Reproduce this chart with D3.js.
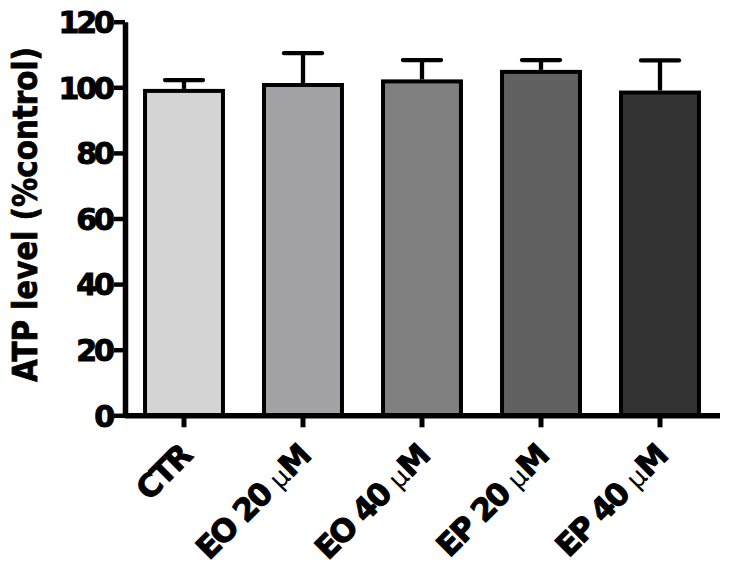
<!DOCTYPE html>
<html>
<head>
<meta charset="utf-8">
<script src="https://cdn.jsdelivr.net/npm/d3@7"></script>
<style>
  body { margin: 0; background: #fff; }
  text { font-family: "DejaVu Sans", sans-serif; font-weight: bold; }
</style>
</head>
<body>
<script>
var groups = ["CTR", "EO 20", "EO 40", "EP 20", "EP 40"],
    units = ["", "\u03bcM", "\u03bcM", "\u03bcM", "\u03bcM"],
    means = [98.9, 100.7, 101.8, 104.7, 98.4],
    upper = [102.2, 110.4, 108.3, 108.3, 108.2],
    fills = ["#d4d4d4", "#a3a3a7", "#808080", "#616161", "#333333"],
    yTicks = [0, 20, 40, 60, 80, 100, 120];

var width = 729,
    height = 571;

var svg = d3.select("body").append("svg")
    .attr("width", width)
    .attr("height", height);

var x = d3.scaleBand()
    .domain(groups)
    .range([124.5, 719.5])
    .paddingInner(0.345)
    .paddingOuter(0.1725);

var y = d3.scaleLinear()
    .domain([0, 120])
    .range([415.3, 21.7]);

// bars
svg.selectAll(".bar")
    .data(groups)
  .enter().append("rect")
    .attr("class", "bar")
    .attr("x", function(d) { return x(d); })
    .attr("y", function(d, i) { return y(means[i]); })
    .attr("width", x.bandwidth())
    .attr("height", function(d, i) { return y(0) - y(means[i]); })
    .style("fill", function(d, i) { return fills[i]; })
    .style("stroke", "#000")
    .style("stroke-width", 4);

// error bars (upper only)
var err = svg.selectAll(".err")
    .data(groups)
  .enter().append("g")
    .attr("class", "err");

err.append("line")
    .attr("x1", function(d) { return x(d) + x.bandwidth() / 2; })
    .attr("x2", function(d) { return x(d) + x.bandwidth() / 2; })
    .attr("y1", function(d, i) { return y(means[i]) - 2; })
    .attr("y2", function(d, i) { return y(upper[i]); })
    .style("stroke", "#000")
    .style("stroke-width", 4.3);

err.append("line")
    .attr("x1", function(d) { return x(d) + x.bandwidth() / 2 - 19; })
    .attr("x2", function(d) { return x(d) + x.bandwidth() / 2 + 19; })
    .attr("y1", function(d, i) { return y(upper[i]); })
    .attr("y2", function(d, i) { return y(upper[i]); })
    .style("stroke", "#000")
    .style("stroke-width", 4.3)
    .style("stroke-linecap", "round");

// x axis
var xAxis = svg.append("g")
    .attr("transform", "translate(0," + y(0) + ")")
    .call(d3.axisBottom(x).tickSize(12).tickSizeOuter(0).tickFormat(""));

xAxis.select(".domain").style("stroke-width", 5.5);
xAxis.selectAll(".tick line").style("stroke-width", 5);

// y axis
var yAxis = svg.append("g")
    .attr("transform", "translate(125,0)")
    .call(d3.axisLeft(y).tickValues(yTicks).tickSize(11).tickSizeOuter(0).tickPadding(2));

yAxis.select(".domain").style("stroke-width", 5.5);
yAxis.selectAll(".tick line").style("stroke-width", 4.5);
yAxis.selectAll(".tick text")
    .style("font-size", "30px")
    .style("letter-spacing", "-3px")
    .style("fill", "#000")
    .style("stroke", "#000")
    .style("stroke-width", 1)
    .attr("dy", "0.36em");

// rotated category labels
var lab = svg.selectAll(".xlab")
    .data(groups)
  .enter().append("text")
    .attr("class", "xlab")
    .attr("text-anchor", "end")
    .attr("transform", function(d) {
      return "translate(" + (x(d) + x.bandwidth() / 2 + 9) + ",458) rotate(-45)";
    })
    .style("font-size", "31px")
    .style("letter-spacing", "-2px");

lab.append("tspan")
    .style("stroke", "#000")
    .style("stroke-width", 1)
    .text(function(d, i) { return units[i] ? d + " " : d; });

lab.append("tspan")
    .style("font-weight", "normal")
    .style("font-size", "26px")
    .style("letter-spacing", "0px")
    .text(function(d, i) { return units[i].charAt(0); });

lab.append("tspan")
    .style("stroke", "#000")
    .style("stroke-width", 1)
    .text(function(d, i) { return units[i].slice(1); });

// y axis title
svg.append("text")
    .attr("transform", "translate(37,214.5) rotate(-90)")
    .attr("text-anchor", "middle")
    .attr("textLength", 335)
    .attr("lengthAdjust", "spacingAndGlyphs")
    .style("font-size", "33px")
    .style("stroke", "#000")
    .style("stroke-width", 0.8)
    .text("ATP level (%control)");
</script>
</body>
</html>
